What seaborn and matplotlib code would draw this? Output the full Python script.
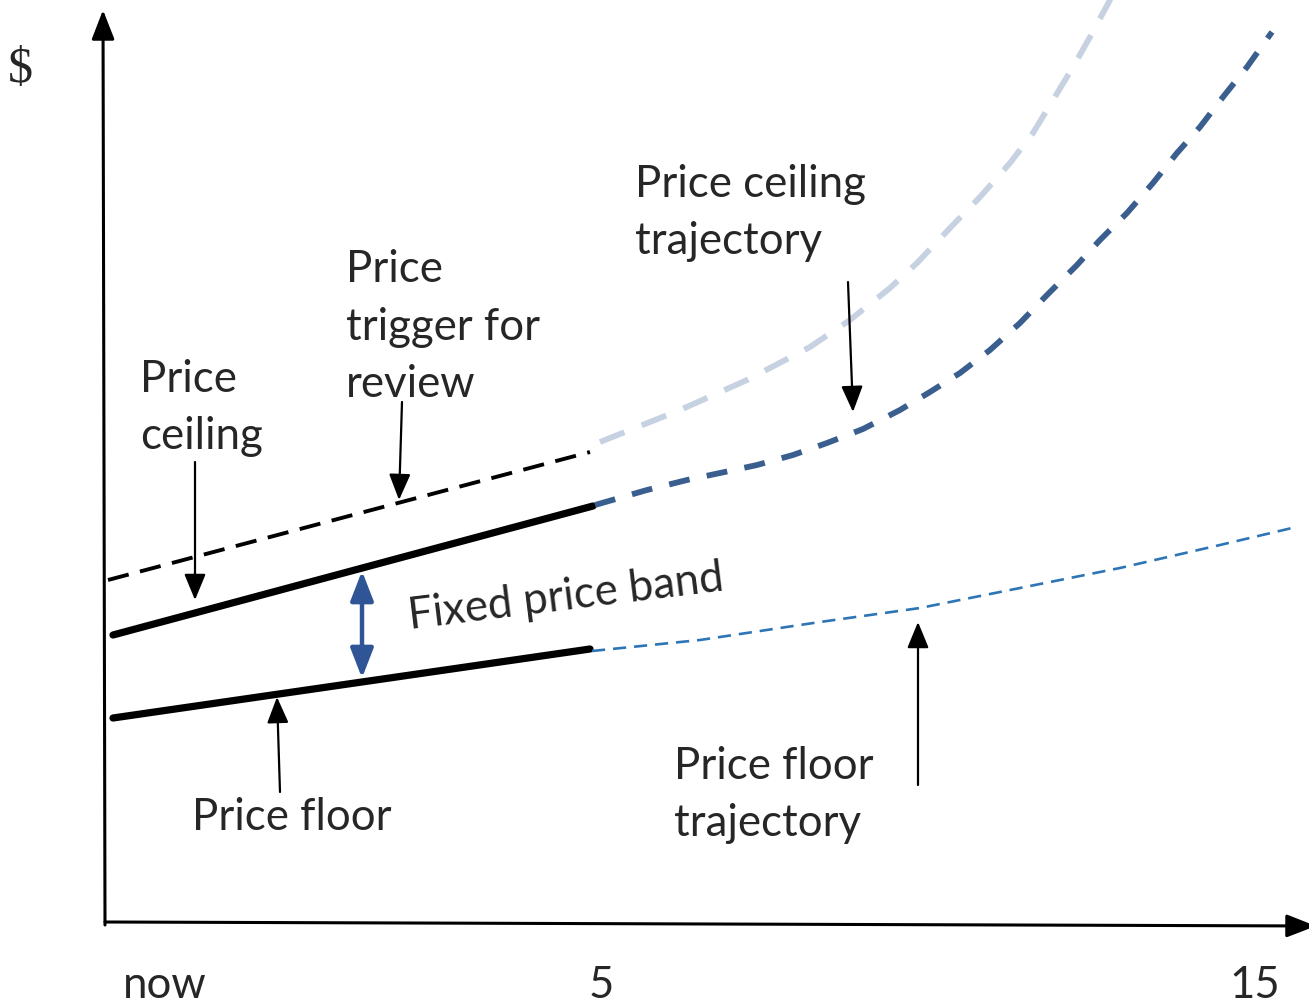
import numpy as np
import pandas as pd
import matplotlib
matplotlib.use("Agg")
import matplotlib.pyplot as plt
import seaborn as sns

# x: time units from "now", y: price in $ units
trigger_x = [0.00, 4.82]
trigger_y = [3.42, 4.70]

ceiling_x = [0.05, 4.85]
ceiling_y = [2.87, 4.16]

floor_x = [0.05, 4.82]
floor_y = [2.04, 2.73]

# faded continuation of the review trigger
trigger_traj_x = [4.92, 5.72, 6.39, 7.02, 7.42, 7.82, 8.09, 8.42, 8.72, 9.02, 9.25,
                  9.45, 9.65, 9.82, 10.02, 10.10]
trigger_traj_y = [4.80, 5.12, 5.42, 5.75, 6.02, 6.34, 6.59, 6.94, 7.25, 7.59, 7.89,
                  8.22, 8.55, 8.85, 9.22, 9.34]

ceiling_traj_x = [4.87, 5.39, 5.79, 6.12, 6.49, 6.85, 7.19, 7.55, 7.92, 8.22, 8.52, 8.82,
                  9.12, 9.39, 9.69, 9.92, 10.19, 10.45, 10.69, 10.92, 11.15, 11.39, 11.64]
ceiling_traj_y = [4.17, 4.32, 4.42, 4.49, 4.57, 4.67, 4.79, 4.93, 5.12, 5.30, 5.49, 5.72,
                  5.99, 6.27, 6.57, 6.82, 7.09, 7.39, 7.69, 7.95, 8.25, 8.55, 8.90]

floor_traj_x = [4.84, 5.92, 7.12, 8.12, 9.12, 10.12, 11.12, 11.84]
floor_traj_y = [2.71, 2.82, 3.00, 3.14, 3.34, 3.54, 3.77, 3.94]

tick_pos = [0.57, 4.93, 11.47]
tick_labels = ["now", "5", "15"]

sns.set_style("white")
plt.rcParams["font.family"] = ["Lato", "DejaVu Sans"]

fig = plt.figure(figsize=(13.09, 10.06), dpi=100)
ax = fig.add_axes([0, 0, 1, 1])
ax.set_xlim(-1.08, 12.01)
ax.set_ylim(-0.84, 9.22)
ax.axis("off")

# main lines
sns.lineplot(x=trigger_x, y=trigger_y, ax=ax, color="black", lw=2.8,
             linestyle=(0, (5.5, 3.0)))
sns.lineplot(x=ceiling_x, y=ceiling_y, ax=ax, color="black", lw=5.2)
sns.lineplot(x=floor_x, y=floor_y, ax=ax, color="black", lw=5.2)

# trajectories
sns.lineplot(x=trigger_traj_x, y=trigger_traj_y, ax=ax, color="#c6d2e1", lw=4.2,
             linestyle=(0, (4.5, 3.2)))
sns.lineplot(x=ceiling_traj_x, y=ceiling_traj_y, ax=ax, color="#3a5f8f", lw=4.2,
             linestyle=(0, (3.6, 3.0)))
sns.lineplot(x=floor_traj_x, y=floor_traj_y, ax=ax, color="#2e75b6", lw=1.9,
             linestyle=(0, (5.0, 3.0)))

# axes with arrow heads
axis_arrow = dict(arrowstyle="-|>,head_length=0.9,head_width=0.35", color="black",
                  lw=2.2, mutation_scale=20, shrinkA=0, shrinkB=0)
ax.annotate("", xy=(-0.05, 9.12), xytext=(-0.03, -0.03), arrowprops=axis_arrow,
            annotation_clip=False)
ax.annotate("", xy=(12.08, -0.04), xytext=(-0.03, 0.0), arrowprops=axis_arrow,
            annotation_clip=False)

# pointer arrows
pointer = dict(arrowstyle="-|>,head_length=0.8,head_width=0.33", color="black",
               lw=1.6, mutation_scale=20, shrinkA=0, shrinkB=0)
ax.annotate("", xy=(0.87, 3.22), xytext=(0.87, 4.60), arrowprops=pointer)
ax.annotate("", xy=(2.91, 4.22), xytext=(2.94, 5.20), arrowprops=pointer)
ax.annotate("", xy=(7.45, 5.10), xytext=(7.40, 6.40), arrowprops=pointer)
ax.annotate("", xy=(1.69, 2.25), xytext=(1.72, 1.30), arrowprops=pointer)
ax.annotate("", xy=(8.10, 3.00), xytext=(8.10, 1.37), arrowprops=pointer)

# fixed band double arrow
ax.annotate("", xy=(2.54, 3.51), xytext=(2.54, 2.44),
            arrowprops=dict(arrowstyle="<|-|>,head_length=0.9,head_width=0.35",
                            color="#2f5597", lw=3.2, mutation_scale=20,
                            shrinkA=0, shrinkB=0))

fs = 31.5
ls = 1.5
ax.text(0.32, 5.14, "Price\nceiling", fontsize=fs, ha="left", va="center", linespacing=ls)
ax.text(2.38, 5.95, "Price\ntrigger for\nreview", fontsize=fs, ha="left", va="center",
        linespacing=ls)
ax.text(5.27, 7.09, "Price ceiling\ntrajectory", fontsize=fs, ha="left", va="center",
        linespacing=ls)
ax.text(0.84, 1.04, "Price floor", fontsize=fs, ha="left", va="center")
ax.text(5.66, 1.27, "Price floor\ntrajectory", fontsize=fs, ha="left", va="center",
        linespacing=ls)
ax.text(4.58, 3.25, "Fixed price band", fontsize=fs, ha="center", va="center",
        rotation=7, rotation_mode="anchor")

for pos, lab in zip(tick_pos, tick_labels):
    ax.text(pos, -0.63, lab, fontsize=fs, ha="center", va="center")

ax.text(-0.88, 8.52, "$", fontsize=36, ha="center", va="center",
        family=["Liberation Serif", "DejaVu Serif"])

fig.savefig("out.png", dpi=100)
